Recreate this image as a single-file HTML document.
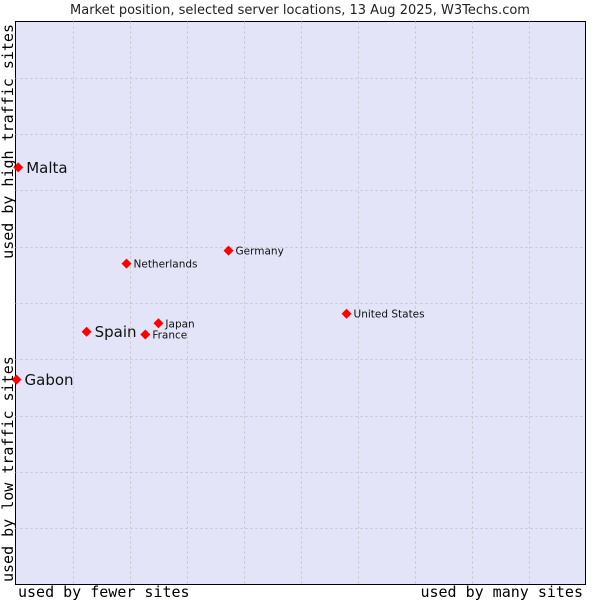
<!DOCTYPE html>
<html><head><meta charset="utf-8"><style>
body{margin:0;background:#fff;width:600px;height:600px;overflow:hidden}
svg{display:block}
</style></head><body>
<svg id="chart" width="600" height="600" xmlns="http://www.w3.org/2000/svg">
<text x="300" y="14" text-anchor="middle" font-family="DejaVu Sans, sans-serif" font-size="13" fill="#222">Market position, selected server locations, 13 Aug 2025, W3Techs.com</text>
<rect x="15.5" y="21.5" width="570" height="563" fill="#e4e4f8" stroke="#000" stroke-width="1"/>
<g id="grid"></g>
<g id="points"></g>
<text x="18" y="597" font-family="DejaVu Sans Mono, monospace" font-size="15" fill="#000">used by fewer sites</text>
<text x="583" y="597" text-anchor="end" font-family="DejaVu Sans Mono, monospace" font-size="15" fill="#000">used by many sites</text>
<text transform="translate(13,24) rotate(-90)" text-anchor="end" font-family="DejaVu Sans Mono, monospace" font-size="15" fill="#000">used by high traffic sites</text>
<text transform="translate(13,582) rotate(-90)" font-family="DejaVu Sans Mono, monospace" font-size="15" fill="#000">used by low traffic sites</text>
</svg>
<script>
const countries = ["Malta","Gabon","Spain","Netherlands","Germany","Japan","France","United States"];
const xValues = [0.03, 0.0, 1.23, 1.93, 3.72, 2.49, 2.26, 5.79];
const yValues = [7.41, 3.64, 4.49, 5.70, 5.93, 4.64, 4.44, 4.81];
const bigLabel = [true, true, true, false, false, false, false, false];
const gridTicks = [1,2,3,4,5,6,7,8,9];

const NS = "http://www.w3.org/2000/svg";
const X0 = 15.5, X1 = 585.5, Y0 = 584.5, Y1 = 21.5;
const xScale = v => X0 + v / 10 * (X1 - X0);
const yScale = v => Y0 - v / 10 * (Y0 - Y1);

const grid = document.getElementById("grid");
gridTicks.forEach(t => {
  const vx = document.createElementNS(NS, "line");
  
  
  const px = Math.round(xScale(t)) + 0.5;
  vx.setAttribute("x1", px); vx.setAttribute("x2", px);
  vx.setAttribute("y1", Y1); vx.setAttribute("y2", Y0);
  vx.setAttribute("stroke", "#c4c4c4"); vx.setAttribute("stroke-dasharray", "2,3");
  grid.appendChild(vx);
  const hy = document.createElementNS(NS, "line");
  
  
  const py = Math.round(yScale(t)) + 0.5;
  hy.setAttribute("y1", py); hy.setAttribute("y2", py);
  hy.setAttribute("x1", X0); hy.setAttribute("x2", X1);
  hy.setAttribute("stroke", "#c4c4c4"); hy.setAttribute("stroke-dasharray", "2,3");
  grid.appendChild(hy);
});

const pts = document.getElementById("points");
countries.forEach((c, i) => {
  const x = xScale(xValues[i]) + 1, y = yScale(yValues[i]);
  const m = document.createElementNS(NS, "polygon");
  
  
  m.setAttribute("points", `${x},${y-5} ${x+5},${y} ${x},${y+5} ${x-5},${y}`);
  m.setAttribute("fill", "#ff0000");
  pts.appendChild(m);
  const t = document.createElementNS(NS, "text");
  
  
  t.setAttribute("x", x + (bigLabel[i] ? 8 : 7));
  t.setAttribute("y", y + (bigLabel[i] ? 5.5 : 4));
  t.setAttribute("font-family", "DejaVu Sans, sans-serif");
  t.setAttribute("font-size", bigLabel[i] ? 15 : 10.5);
  t.setAttribute("fill", "#111");
  t.textContent = c;
  pts.appendChild(t);
});
</script>
</body></html>
